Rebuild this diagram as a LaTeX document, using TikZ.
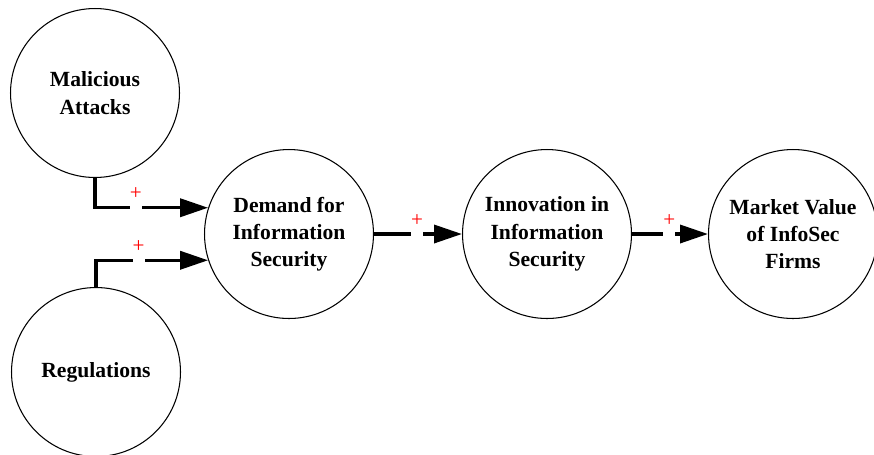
\documentclass[tikz,border=0pt]{standalone}
\usepackage{fontspec}
\setmainfont{Liberation Serif}
\usetikzlibrary{arrows.meta}

\begin{document}
\begin{tikzpicture}[x=0.02cm, y=-0.02cm,
  factor/.style={draw, circle, line width=0.6pt, minimum size=3.38cm, inner sep=0pt, align=center, font=\fontsize{12.3}{15.5}\selectfont\bfseries},
  link/.style={line width=2pt, -{Triangle[length=0.56cm,width=0.36cm]}},
  gapmark/.style={fill=white, inner sep=0pt, minimum width=0.24cm, minimum height=0.15cm, label={[red, font=\large, inner sep=0pt, yshift=0.01cm]above:+}}]
\useasboundingbox (0,0) rectangle (874,454);

\node[factor] (mal) at (95,93) {Malicious\\Attacks};
\node[factor] (reg) at (96,372) {Regulations};
\node[factor] (dem) at (289,234) {Demand for\\Information\\Security};
\node[factor] (inn) at (547,234) {Innovation in\\Information\\Security};
\node[factor] (mkt) at (793,234) {Market Value\\of InfoSec\\Firms};

\draw[link] (mal.south) |- (dem.162) node[gapmark, pos=0.68] {};
\draw[link] (reg.north) |- (dem.198) node[gapmark, pos=0.69] {};
\draw[link] (dem.east) -- (inn.west) node[gapmark, pos=0.49] {};
\draw[link] (inn.east) -- (mkt.west) node[gapmark, pos=0.49] {};

\end{tikzpicture}
\end{document}
